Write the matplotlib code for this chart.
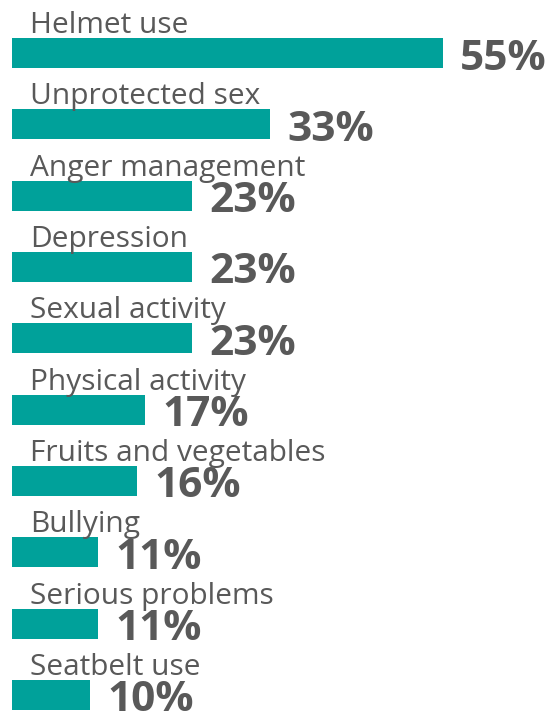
import matplotlib
matplotlib.use("Agg")
import matplotlib.pyplot as plt
import numpy as np

categories = ["Helmet use", "Unprotected sex", "Anger management", "Depression",
              "Sexual activity", "Physical activity", "Fruits and vegetables",
              "Bullying", "Serious problems", "Seatbelt use"]
values = [55, 33, 23, 23, 23, 17, 16, 11, 11, 10]
value_labels = [f"{v}%" for v in values]

W, H = 552, 712
fig = plt.figure(figsize=(W / 100, H / 100), dpi=100)
ax = fig.add_axes([12 / W, 0, 1 - 12 / W, 1])
px_per_unit = 7.83
step = 71.33
ax.set_xlim(0, (W - 12) / px_per_unit)
ax.set_ylim((H - 53) / step, -53 / step)
ax.axis("off")

bar_h = 30 / step
pos = np.arange(len(categories))
ax.barh(pos, values, height=bar_h, color="#00A19A")

pt = 0.72  # points per pixel
txt_col = "#595959"
for i, (c, v, lab) in enumerate(zip(categories, values, value_labels)):
    ax.annotate(c, xy=(0, i - bar_h / 2), xytext=(18 * pt, 5 * pt),
                textcoords="offset points", ha="left", va="baseline",
                fontsize=21.5, color=txt_col, family="Open Sans")
    ax.annotate(lab, xy=(v, i), xytext=(17 * pt, -16.5 * pt),
                textcoords="offset points", ha="left", va="baseline",
                fontsize=30.5, fontweight="bold", color=txt_col, family="Open Sans")

fig.savefig("out.png", dpi=100)
